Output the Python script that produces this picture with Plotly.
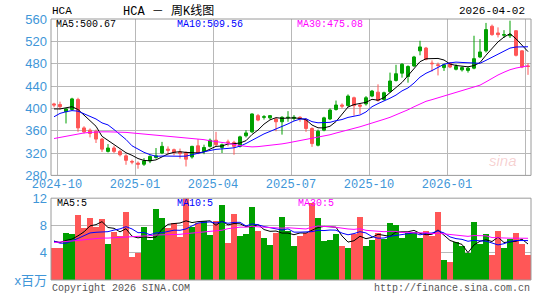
import plotly.graph_objects as go

# ---------------- data (weekly, HCA) ----------------
dates = [
    "2024-09-27", "2024-10-04", "2024-10-11", "2024-10-18", "2024-10-25", "2024-11-01", "2024-11-08", "2024-11-15",
    "2024-11-22", "2024-11-29", "2024-12-06", "2024-12-13", "2024-12-20", "2024-12-27", "2025-01-03", "2025-01-10",
    "2025-01-17", "2025-01-24", "2025-01-31", "2025-02-07", "2025-02-14", "2025-02-21", "2025-02-28", "2025-03-07",
    "2025-03-14", "2025-03-21", "2025-03-28", "2025-04-04", "2025-04-11", "2025-04-17", "2025-04-25", "2025-05-02",
    "2025-05-09", "2025-05-16", "2025-05-23", "2025-05-30", "2025-06-06", "2025-06-13", "2025-06-20", "2025-06-27",
    "2025-07-03", "2025-07-11", "2025-07-18", "2025-07-25", "2025-08-01", "2025-08-08", "2025-08-15", "2025-08-22",
    "2025-08-29", "2025-09-05", "2025-09-12", "2025-09-19", "2025-09-26", "2025-10-03", "2025-10-10", "2025-10-17",
    "2025-10-24", "2025-10-31", "2025-11-07", "2025-11-14", "2025-11-21", "2025-11-28", "2025-12-05", "2025-12-12",
    "2025-12-19", "2025-12-26", "2026-01-02", "2026-01-09", "2026-01-16", "2026-01-23", "2026-01-30", "2026-02-06",
    "2026-02-13", "2026-02-20", "2026-02-27", "2026-03-06", "2026-03-13", "2026-03-20", "2026-03-27", "2026-04-02",
]
opens = [408, 407, 394, 398, 416, 365, 361, 359, 345, 323, 329, 323, 315, 305, 302, 300, 306, 312, 320, 327,
         326, 322, 321, 313, 333, 323, 332, 343, 330, 340, 339, 332, 351, 358, 387, 384, 383, 381, 376, 383,
         382, 384, 380, 364, 334, 361, 381, 398, 406, 405, 419, 406, 408, 422, 429, 416, 430, 450, 463, 457,
         476, 503, 508, 481, 478, 473, 481, 470, 469, 468, 472, 492, 503, 547, 535, 531, 530, 539, 503, 476]
highs = [410, 412, 400, 419, 419, 368, 364, 362, 347, 336, 333, 326, 318, 308, 305, 311, 316, 329, 340, 332,
         328, 328, 323, 333, 345, 335, 346, 358, 337, 344, 342, 351, 361, 391, 390, 388, 388, 383, 386, 395,
         388, 386, 382, 366, 362, 385, 400, 414, 409, 425, 421, 408, 422, 433, 443, 430, 464, 478, 481, 477,
         494, 521, 510, 486, 482, 480, 483, 479, 475, 475, 530, 524, 553, 550, 545, 540, 557, 540, 504, 481]
lows = [402, 398, 373, 396, 358, 355, 348, 338, 322, 321, 320, 314, 299, 300, 292, 297, 302, 310, 318, 318,
        316, 310, 296, 310, 318, 318, 330, 332, 320, 332, 317, 330, 348, 356, 377, 380, 380, 359, 353, 376,
        378, 376, 358, 331, 332, 359, 379, 396, 400, 403, 387, 390, 405, 420, 412, 414, 428, 448, 455, 446,
        474, 495, 486, 466, 459, 467, 472, 468, 466, 464, 470, 490, 500, 530, 527, 526, 526, 493, 472, 460]
closes = [406, 403, 399, 417, 365, 358, 355, 345, 327, 329, 323, 317, 307, 304, 300, 306, 314, 315, 332, 325,
          321, 319, 309, 332, 320, 330, 343, 335, 335, 339, 332, 349, 356, 390, 379, 385, 387, 376, 384, 384,
          384, 382, 364, 337, 359, 383, 397, 406, 404, 422, 405, 404, 419, 431, 414, 428, 449, 462, 479, 475,
          492, 510, 488, 480, 477, 478, 474, 475, 473, 472, 489, 501, 541, 532, 532, 532, 532, 495, 474, 475]
volumes = [4.7, 4.7, 6.8, 6.7, 9.5, 7.6, 9.1, 7.7, 8.9, 5.2, 7.0, 6.5, 10.0, 3.4, 4.0, 7.8, 5.9, 10.4, 9.1, 7.6,
           8.4, 6.3, 12.0, 7.8, 8.3, 8.7, 6.6, 8.7, 11.0, 5.4, 9.7, 6.4, 6.7, 10.7, 7.1, 6.1, 5.1, 6.9, 9.2, 7.1,
           4.9, 6.4, 6.8, 11.3, 9.1, 5.7, 5.9, 6.7, 4.9, 4.6, 6.7, 9.2, 4.9, 5.9, 6.8, 6.0, 8.4, 8.1, 6.1, 6.8,
           7.0, 6.2, 7.1, 6.4, 10.0, 2.9, 2.6, 5.6, 5.0, 4.0, 8.5, 5.3, 6.7, 3.7, 7.2, 4.6, 6.0, 6.9, 5.2, 3.7]

# moving-average values at the start of the window (history before the first week)
ma5_head = [399, 399, 401, 403]
ma10_head = [385, 391, 394, 396, 395, 390, 386, 381, 374]
ma30_head = [346, 348, 351, 353, 355, 356, 357, 358, 358, 358, 358, 358, 357, 356, 355, 354, 353, 352, 351, 351,
             350, 349, 348, 347, 346, 344, 342, 340, 339]
vma5_head = [5.7, 5.5, 5.8, 6.0]
vma10_head = [5.7, 5.4, 5.4, 5.7, 6.1, 6.5, 6.9, 7.0, 7.0]
vma30_head = [5.5, 5.55, 5.6, 5.7, 5.8, 5.9, 6.0, 6.1, 6.15, 6.15, 6.2, 6.2, 6.3, 6.3, 6.3, 6.4, 6.5, 6.6, 6.6,
              6.7, 6.7, 6.7, 6.8, 6.9, 7.0, 7.0, 7.1, 7.2, 7.3]

price_ticks = [280, 320, 360, 400, 440, 480, 520, 560]
vol_ticks = [0, 4, 8, 12]
vol_tick_text = ["x百万", "4", "8", "12"]
ma_labels = ["MA5:500.67", "MA10:509.56", "MA30:475.08"]
vma_labels = ["MA5:5", "MA10:5", "MA30:5"]


def moving_avg(vals, w, head):
    out = []
    for i in range(len(vals)):
        if i < w - 1:
            out.append(head[i])
        else:
            out.append(sum(vals[i - w + 1:i + 1]) / w)
    return out


ma5 = moving_avg(closes, 5, ma5_head)
ma10 = moving_avg(closes, 10, ma10_head)
ma30 = moving_avg(closes, 30, ma30_head)
vma5 = moving_avg(volumes, 5, vma5_head)
vma10 = moving_avg(volumes, 10, vma10_head)
vma30 = moving_avg(volumes, 30, vma30_head)

xs = list(range(len(dates)))
tickvals, ticktext = [], []
for i in range(1, len(dates)):
    m = dates[i][5:7]
    if m != dates[i - 1][5:7] and m in ("01", "04", "07", "10"):
        tickvals.append(i - 0.5)
        ticktext.append(dates[i][:7])

# ---------------- styling ----------------
W, H = 545, 300
L, R, T, B = 51, 14, 18, 15
PW, PH = W - L - R, H - T - B


def px(x):
    return (x - L) / PW


def py(y):
    return (H - B - y) / PH


GREEN = "#00a000"
RED = "#ff5757"
BLUE = "#4096d8"
GRID = "#b8b8b8"
BORDER = "#9a9a9a"
MONO = "Liberation Mono, DejaVu Sans Mono, Noto Sans CJK SC, monospace"
CJK = "Liberation Mono, Noto Sans CJK SC, sans-serif"

vol_colors = [GREEN if c >= o else RED for o, c in zip(opens, closes)]

fig = go.Figure()
fig.add_trace(go.Candlestick(
    x=xs, open=opens, high=highs, low=lows, close=closes,
    increasing=dict(line=dict(color=GREEN, width=1), fillcolor=GREEN),
    decreasing=dict(line=dict(color=RED, width=1), fillcolor=RED),
    xaxis="x", yaxis="y", showlegend=False, hoverinfo="skip"))
for series, col in ((ma5, "#000000"), (ma10, "#0000ff"), (ma30, "#ff00ff")):
    fig.add_trace(go.Scatter(x=xs, y=series, mode="lines", line=dict(color=col, width=1),
                             xaxis="x", yaxis="y", showlegend=False, hoverinfo="skip"))

fig.add_trace(go.Bar(x=xs, y=volumes, marker=dict(color=vol_colors, line=dict(width=0)), width=0.86,
                     xaxis="x2", yaxis="y2", showlegend=False, hoverinfo="skip"))
for series, col in ((vma5, "#000000"), (vma10, "#0000ff"), (vma30, "#ff00ff")):
    fig.add_trace(go.Scatter(x=xs, y=series, mode="lines", line=dict(color=col, width=1),
                             xaxis="x2", yaxis="y2", showlegend=False, hoverinfo="skip"))

xr = [-0.5, len(dates) - 0.5]
fig.update_layout(
    width=W, height=H, margin=dict(l=L, r=R, t=T, b=B),
    paper_bgcolor="white", plot_bgcolor="white",
    showlegend=False, bargap=0,
    xaxis=dict(domain=[0, 1], range=xr, anchor="y", tickvals=tickvals, ticktext=ticktext,
               showgrid=True, gridcolor=GRID, gridwidth=1, zeroline=False, showline=False, ticks="",
               tickfont=dict(family=MONO, size=12, color=BLUE), rangeslider=dict(visible=False),
               fixedrange=True),
    yaxis=dict(domain=[py(178), 1], range=[price_ticks[0], price_ticks[-1]], anchor="x",
               tickvals=price_ticks, showgrid=True, gridcolor=GRID, gridwidth=1, zeroline=False,
               showline=False, ticks="", ticklabelstandoff=3,
               tickfont=dict(family="Liberation Sans, Arial, sans-serif", size=13, color=BLUE)),
    xaxis2=dict(domain=[0, 1], range=xr, anchor="y2", showticklabels=False, showgrid=False,
                zeroline=False, showline=False, ticks=""),
    yaxis2=dict(domain=[0, py(201.3)], range=[0, 12], anchor="x2", tickvals=vol_ticks,
                ticktext=vol_tick_text, showgrid=True, gridcolor=GRID, gridwidth=1, zeroline=False,
                showline=False, ticks="", ticklabelstandoff=3,
                tickfont=dict(family="Liberation Sans, Noto Sans CJK SC, sans-serif", size=13, color=BLUE)),
)

# panel borders
fig.add_shape(type="rect", xref="x domain", yref="y domain", x0=0, x1=1, y0=0, y1=1,
              line=dict(color=BORDER, width=1), layer="above")
fig.add_shape(type="rect", xref="x2 domain", yref="y2 domain", x0=0, x1=1, y0=0, y1=1,
              line=dict(color=BORDER, width=1), layer="above")


def txt(text, x, y, anchor="left", color="#000000", size=10, family=MONO, **kw):
    fig.add_annotation(text=text, xref="paper", yref="paper", x=px(x), y=py(y), xanchor=anchor,
                       yanchor="middle", showarrow=False, font=dict(family=family, size=size, color=color),
                       **kw)


txt("HCA", 50, 10, size=11)
txt("HCA － 周K线图", 121, 10, size=12, family=CJK)
txt(dates[-1], 527, 10, anchor="right", size=11)

ma_cols = ["#000000", "#0000ff", "#ff00ff"]
for lab, xpos, col in zip(ma_labels, (54, 175, 294.5), ma_cols):
    txt(lab, xpos, 24, color=col, size=10)
for lab, xpos, col in zip(vma_labels, (55, 175.4, 296.3), ma_cols):
    txt(lab, xpos, 207, color=col, size=10)

txt("Copyright 2026 SINA.COM", 50, 294, color="#555555", size=10)
txt("http://finance.sina.com.cn", 532, 294, anchor="right", color="#555555", size=10)

# faint watermark
fig.add_annotation(text="<i>sina</i>", xref="paper", yref="paper", x=px(503), y=py(163),
                   xanchor="center", yanchor="middle", showarrow=False,
                   font=dict(family="Liberation Sans, sans-serif", size=15, color="rgba(225,90,90,0.28)"))

fig.write_html("out.html")
